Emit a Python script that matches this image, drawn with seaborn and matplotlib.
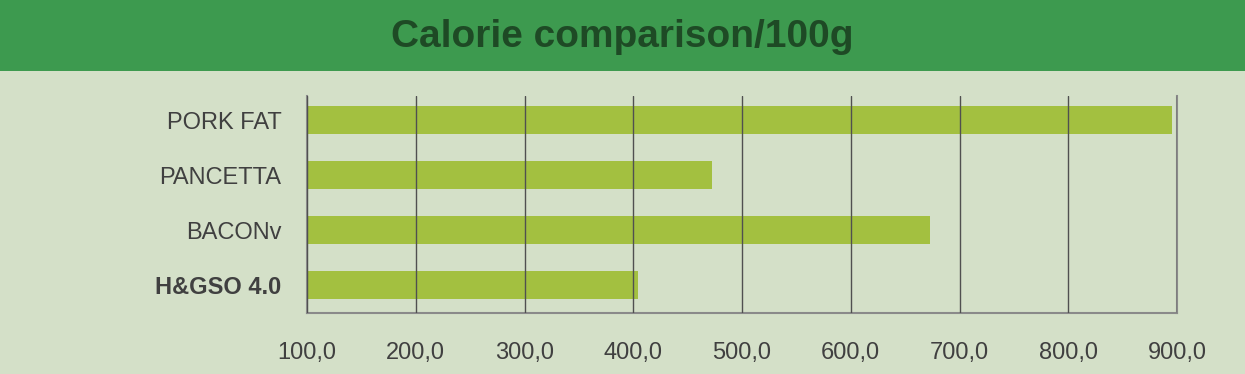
import matplotlib
matplotlib.use("Agg")
import matplotlib.pyplot as plt
import seaborn as sns
import pandas as pd
from matplotlib.patches import Rectangle
from matplotlib.ticker import FuncFormatter

categories = ["PORK FAT", "PANCETTA", "BACONv", "H&GSO 4.0"]
calories = [895, 472, 673, 404]
xticks = [100, 200, 300, 400, 500, 600, 700, 800, 900]
title = "Calorie comparison/100g"

sns.set_theme(style="white")
FAM = ["Liberation Sans Narrow", "Liberation Sans", "DejaVu Sans"]
plt.rcParams["font.family"] = FAM

BG = "#d4e0c8"
BAND = "#3d9a4f"
BAR = "#a3c040"
TXT = "#404040"

fig = plt.figure(figsize=(12.45, 3.74), dpi=100, facecolor=BG)
fig.patches.append(Rectangle((0, 1 - 71 / 374), 1, 71 / 374, transform=fig.transFigure,
                             facecolor=BAND, edgecolor="none", zorder=0))
fig.text(0.5, 1 - 37 / 374, title, ha="center", va="center", fontsize=28,
         fontweight="bold", color="#1e4a25", family=FAM)

ax = fig.add_axes([307 / 1245, 1 - 313 / 374, 870 / 1245, 217 / 374])
ax.set_facecolor(BG)
df = pd.DataFrame({"cat": categories, "cal": calories})
sns.barplot(data=df, x="cal", y="cat", orient="h", color=BAR, saturation=1,
            width=0.5, ax=ax, zorder=1, linewidth=0, edgecolor=BAR)
ax.set_xlim(100, 900)
ax.set_ylim(3.51, -0.44)
ax.set_xticks(xticks)
ax.xaxis.set_major_formatter(FuncFormatter(lambda v, p: f"{v:.1f}".replace(".", ",")))
ax.set_xlabel("")
ax.set_ylabel("")
ax.grid(axis="x", color="#505050", lw=1.0, zorder=3)
ax.grid(axis="y", visible=False)
ax.set_axisbelow(False)
for s in ["left", "right", "bottom"]:
    ax.spines[s].set_visible(True)
    ax.spines[s].set_color("#8a8a8a")
    ax.spines[s].set_linewidth(1.5)
ax.spines["top"].set_visible(False)
ax.tick_params(axis="x", length=0, pad=21, labelsize=17, labelcolor=TXT)
ax.tick_params(axis="y", length=0, pad=18.5, labelsize=17, labelcolor=TXT)
for lab in ax.get_yticklabels():
    if lab.get_text() == "H&GSO 4.0":
        lab.set_fontweight("bold")

fig.savefig("out.png", dpi=100, facecolor=BG)
